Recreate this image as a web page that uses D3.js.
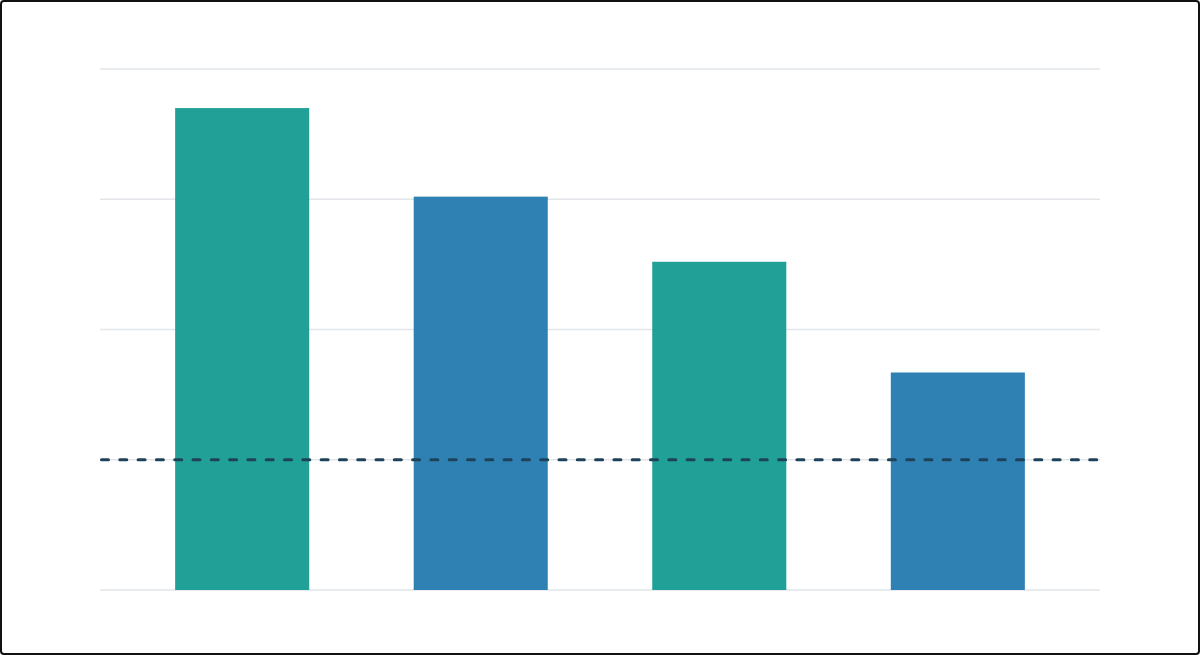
<!DOCTYPE html>
<html>
<head>
<meta charset="utf-8">
<script src="https://cdn.jsdelivr.net/npm/d3@7"></script>
<style>
  html, body { margin: 0; padding: 0; background: #fff; }
  svg { display: block; }
</style>
</head>
<body>
<svg id="chart"></svg>
<script>
// chart data
const categories = ['A', 'B', 'C', 'D'];
const values = [3.70, 3.02, 2.52, 1.67];
const barColors = ['#20a097', '#2e81b2', '#20a097', '#2e81b2'];
const gridTicks = [0, 1, 2, 3, 4];
const targetValue = 1.0;

const width = 1200;
const height = 655;
const margin = { top: 69, right: 100, bottom: 65, left: 100 };

const svg = d3.select('#chart')
    .attr('width', width)
    .attr('height', height)
    .attr('viewBox', [0, 0, width, height]);

const x = d3.scaleBand()
    .domain(categories)
    .range([margin.left, width - margin.right])
    .paddingInner(0.438)
    .paddingOuter(0.315);

const y = d3.scaleLinear()
    .domain([0, 4])
    .range([height - margin.bottom, margin.top]);

// gridlines
svg.append('g')
    .selectAll('line')
    .data(gridTicks)
    .join('line')
    .attr('x1', margin.left)
    .attr('x2', width - margin.right)
    .attr('y1', d => y(d))
    .attr('y2', d => y(d))
    .attr('stroke', '#e2e6ea')
    .attr('stroke-width', 1.5);

// bars
svg.append('g')
    .selectAll('rect')
    .data(values)
    .join('rect')
    .attr('x', (d, i) => x(categories[i]))
    .attr('y', d => y(d))
    .attr('width', x.bandwidth())
    .attr('height', d => y(0) - y(d))
    .attr('fill', (d, i) => barColors[i]);

// target line
svg.append('line')
    .attr('x1', margin.left + 1.5)
    .attr('x2', width - margin.right)
    .attr('y1', y(targetValue))
    .attr('y2', y(targetValue))
    .attr('stroke', '#1d4259')
    .attr('stroke-width', 3)
    .attr('stroke-dasharray', '7,11.3')
    .attr('stroke-linecap', 'round');

// frame
svg.append('rect')
    .attr('x', 1)
    .attr('y', 1)
    .attr('width', width - 2)
    .attr('height', height - 2)
    .attr('rx', 3)
    .attr('fill', 'none')
    .attr('stroke', '#111')
    .attr('stroke-width', 2);
</script>
</body>
</html>
